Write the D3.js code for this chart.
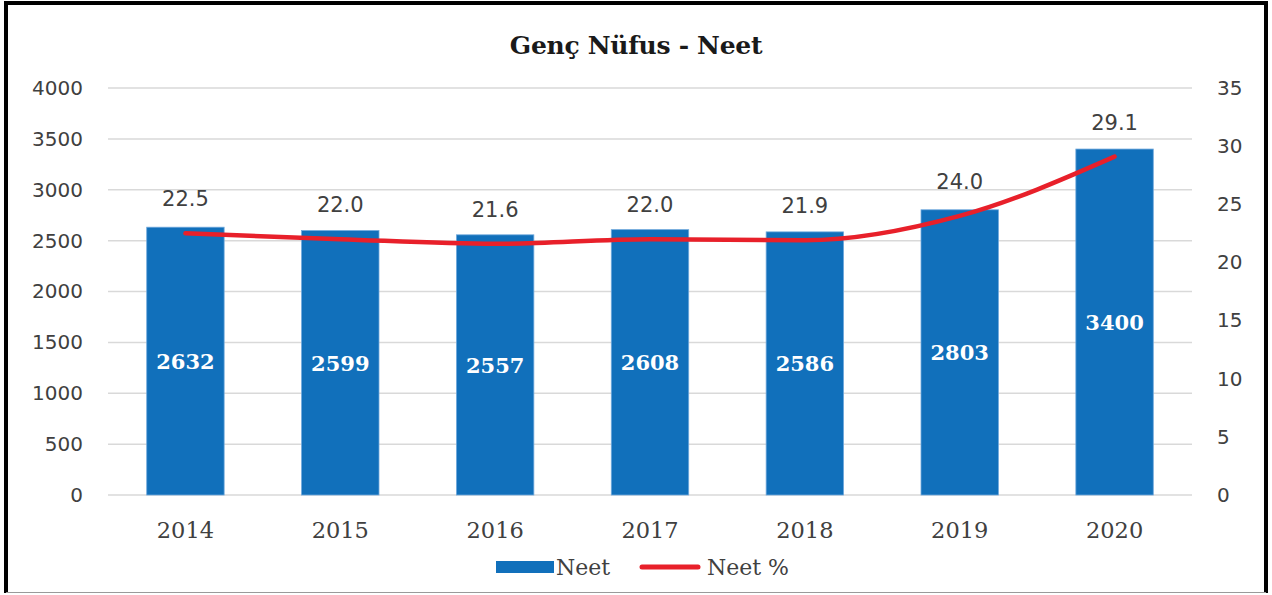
<!DOCTYPE html>
<html>
<head>
<meta charset="utf-8">
<script src="https://cdnjs.cloudflare.com/ajax/libs/d3/7.8.5/d3.min.js"></script>
<style>
  body { margin: 0; background: #fff; }
  svg { display: block; }
</style>
</head>
<body>
<div id="chart-area"></div>
<script>
// data
var years = ["2014", "2015", "2016", "2017", "2018", "2019", "2020"];
var neet = [2632, 2599, 2557, 2608, 2586, 2803, 3400];
var neetPct = [22.5, 22.0, 21.6, 22.0, 21.9, 24.0, 29.1];
var leftTicks = [0, 500, 1000, 1500, 2000, 2500, 3000, 3500, 4000];
var rightTicks = [0, 5, 10, 15, 20, 25, 30, 35];

var W = 1272, H = 595;
var plot = { left: 108, right: 1192, top: 88, bottom: 495 };
var barColor = "#1170bb", lineColor = "#e8202a";

var svg = d3.select("#chart-area")
    .append("svg")
        .attr("width", W)
        .attr("height", H);

// frame
svg.append("rect").attr("x", 0).attr("y", 0).attr("width", W).attr("height", H).attr("fill", "#fff");
svg.append("line").attr("x1", 4).attr("x2", 1268).attr("y1", 3).attr("y2", 3)
    .attr("stroke", "#000").attr("stroke-width", 4);
svg.append("line").attr("x1", 6).attr("x2", 6).attr("y1", 1).attr("y2", 593)
    .attr("stroke", "#000").attr("stroke-width", 4);
svg.append("line").attr("x1", 1266).attr("x2", 1266).attr("y1", 1).attr("y2", 593)
    .attr("stroke", "#000").attr("stroke-width", 4);
svg.append("line").attr("x1", 6).attr("x2", 1266).attr("y1", 592.5).attr("y2", 592.5)
    .attr("stroke", "#9a9a9a").attr("stroke-width", 1);

// Scales
var x = d3.scaleBand()
    .domain(years)
    .range([plot.left, plot.right])
    .paddingInner(0.5)
    .paddingOuter(0.25);
var y = d3.scaleLinear()
    .domain([0, 4000])
    .range([plot.bottom, plot.top]);
var y2 = d3.scaleLinear()
    .domain([0, 35])
    .range([plot.bottom, plot.top]);

// grid
svg.append("g").selectAll("line")
    .data(leftTicks)
    .enter().append("line")
        .attr("x1", plot.left).attr("x2", plot.right)
        .attr("y1", function(d){ return y(d); })
        .attr("y2", function(d){ return y(d); })
        .attr("stroke", "#d9d9d9")
        .attr("stroke-width", 1.5);

// left axis
var yAxisCall = d3.axisLeft(y).tickValues(leftTicks).tickSize(0).tickPadding(0)
    .tickFormat(d3.format("d"));
var yAxis = svg.append("g")
    .attr("transform", "translate(83,0)")
    .call(yAxisCall);
yAxis.select(".domain").remove();
yAxis.selectAll("text")
    .attr("fill", "#404040")
    .style("font-family", "DejaVu Sans")
    .style("font-size", "20px");

// right axis
var y2AxisCall = d3.axisRight(y2).tickValues(rightTicks).tickSize(0).tickPadding(0);
var y2Axis = svg.append("g")
    .attr("transform", "translate(1217,0)")
    .call(y2AxisCall);
y2Axis.select(".domain").remove();
y2Axis.selectAll("text")
    .attr("fill", "#404040")
    .style("font-family", "DejaVu Sans")
    .style("font-size", "20px");

// x axis
var xAxisCall = d3.axisBottom(x).tickSize(0).tickPadding(0);
var xAxis = svg.append("g")
    .attr("transform", "translate(0,538)")
    .call(xAxisCall);
xAxis.select(".domain").remove();
xAxis.selectAll("text")
    .attr("dy", 0)
    .attr("fill", "#404040")
    .style("font-family", "DejaVu Serif")
    .style("font-size", "22.5px");

// bars
svg.append("g").selectAll("rect")
    .data(neet)
    .enter().append("rect")
        .attr("x", function(d, i){ return x(years[i]); })
        .attr("y", function(d){ return y(d); })
        .attr("width", x.bandwidth())
        .attr("height", function(d){ return y(0) - y(d); })
        .attr("fill", barColor)
        .attr("stroke", "#6fa8dc")
        .attr("stroke-width", 0.8);

// bar labels
svg.append("g").selectAll("text")
    .data(neet)
    .enter().append("text")
        .attr("x", function(d, i){ return x(years[i]) + x.bandwidth() / 2; })
        .attr("y", function(d){ return (y(d) + y(0)) / 2 + 8; })
        .attr("text-anchor", "middle")
        .attr("fill", "#fff")
        .style("font-family", "DejaVu Serif")
        .style("font-weight", "bold")
        .style("font-size", "21px")
        .text(function(d){ return d; });

// line
var line = d3.line()
    .x(function(d, i){ return x(years[i]) + x.bandwidth() / 2; })
    .y(function(d){ return y2(d); })
    .curve(d3.curveMonotoneX);
svg.append("path")
    .datum(neetPct)
    .attr("d", line)
    .attr("fill", "none")
    .attr("stroke", lineColor)
    .attr("stroke-width", 4.5)
    .attr("stroke-linecap", "round");

// line labels
svg.append("g").selectAll("text")
    .data(neetPct)
    .enter().append("text")
        .attr("x", function(d, i){ return x(years[i]) + x.bandwidth() / 2; })
        .attr("y", function(d){ return y2(d) - 27; })
        .attr("text-anchor", "middle")
        .attr("fill", "#404040")
        .style("font-family", "DejaVu Sans")
        .style("font-size", "21px")
        .text(function(d){ return d3.format(".1f")(d); });

// title
svg.append("text")
    .attr("x", 636)
    .attr("y", 54)
    .attr("text-anchor", "middle")
    .attr("fill", "#1a1a1a")
    .style("font-family", "DejaVu Serif")
    .style("font-weight", "bold")
    .style("font-size", "25px")
    .style("letter-spacing", "-0.3px")
    .text("Genç Nüfus - Neet");

// legend
var legend = svg.append("g");
legend.append("rect")
    .attr("x", 496).attr("y", 561)
    .attr("width", 58).attr("height", 12)
    .attr("fill", barColor);
legend.append("text")
    .attr("x", 556).attr("y", 575)
    .attr("fill", "#404040")
    .style("font-family", "DejaVu Serif")
    .style("font-size", "22px")
    .text("Neet");
legend.append("line")
    .attr("x1", 642).attr("x2", 698)
    .attr("y1", 567).attr("y2", 567)
    .attr("stroke", lineColor)
    .attr("stroke-width", 5)
    .attr("stroke-linecap", "round");
legend.append("text")
    .attr("x", 707).attr("y", 575)
    .attr("fill", "#404040")
    .style("font-family", "DejaVu Serif")
    .style("font-size", "22px")
    .text("Neet %");
</script>
</body>
</html>
